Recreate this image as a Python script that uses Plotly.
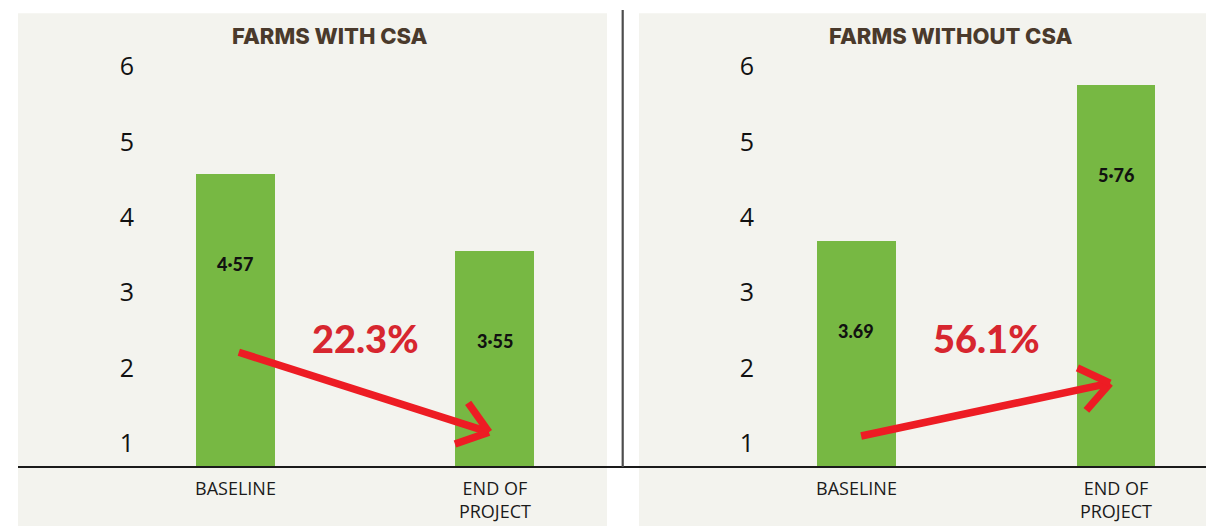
import math
import plotly.graph_objects as go

# =========================
# 0. DATA
# =========================
CATEGORIES = ["BASELINE", "END OF<br>PROJECT"]
PANEL_TITLES = ["FARMS WITH CSA", "FARMS WITHOUT CSA"]

WITH_CSA = [4.57, 3.55]
WITHOUT_CSA = [3.69, 5.76]
WITH_CSA_TEXT = ["4·57", "3·55"]
WITHOUT_CSA_TEXT = ["3.69", "5·76"]

CHANGE_TEXT = ["22.3%", "56.1%"]
# arrow (start x, start y) -> (tip x, tip y), in data units
ARROW_WITH = [(0.013, 2.21), (0.977, 1.15)]
ARROW_WITHOUT = [(0.018, 1.10), (0.977, 1.80)]

Y_TICKS = [1, 2, 3, 4, 5, 6]

# =========================
# 1. LAYOUT CONSTANTS (pixels)
# =========================
W, H = 1206, 526
AXIS_Y = 467
PLOT_TOP = 14
PX_X = 259.5       # px per category step
PX_Y = 75.4        # px per y unit
Y_RANGE = [1 - (AXIS_Y - 443.5) / PX_Y, 6 + (66.5 - PLOT_TOP) / PX_Y]

BG = "#f3f3ee"
GREEN = "#77b843"
RED_TXT = "#d7262f"
RED_ARROW = "#ed1c24"
TITLE_CLR = "#4a3a2c"

def px(x):
    return x / W

def py(y):
    return 1 - y / H

def arrow_xy(start, tip, arm_px=36, ang=37):
    (x0, y0), (x1, y1) = start, tip
    dx, dy = (x0 - x1) * PX_X, (y0 - y1) * PX_Y
    base = math.atan2(dy, dx)
    xs, ys = [x0, x1, None], [y0, y1, None]
    for s in (1, -1):
        a = base + s * math.radians(ang)
        xs += [x1 + arm_px * math.cos(a) / PX_X, x1]
        ys += [y1 + arm_px * math.sin(a) / PX_Y, y1]
        xs.append(None); ys.append(None)
    return xs, ys

panels = [
    dict(vals=WITH_CSA, txt=WITH_CSA_TEXT, arrow=ARROW_WITH, change=CHANGE_TEXT[0],
         left=18, right=607, xr=[-0.838, 1.432], ytick_pos=134),
    dict(vals=WITHOUT_CSA, txt=WITHOUT_CSA_TEXT, arrow=ARROW_WITHOUT, change=CHANGE_TEXT[1],
         left=639, right=1206, xr=[-0.838, 1.347], ytick_pos=754),
]

fig = go.Figure()
shapes, annotations = [], []

for i, p in enumerate(panels):
    sfx = "" if i == 0 else "2"
    xa, ya = "x" + sfx, "y" + sfx

    fig.add_trace(go.Bar(
        x=[0, 1], y=p["vals"], width=0.304, marker=dict(color=GREEN, line=dict(width=0)),
        xaxis=xa, yaxis=ya, showlegend=False, hoverinfo="y",
    ))
    ax, ay = arrow_xy(*p["arrow"])
    fig.add_trace(go.Scatter(
        x=ax, y=ay, mode="lines", line=dict(color=RED_ARROW, width=7.5),
        xaxis=xa, yaxis=ya, showlegend=False, hoverinfo="skip",
    ))

    xkey = "xaxis" + sfx
    ykey = "yaxis" + sfx
    fig.layout[xkey] = dict(
        domain=[px(p["left"]), px(min(p["right"], W))], range=p["xr"],
        anchor=ya, tickvals=[0, 1], ticktext=CATEGORIES, showgrid=False,
        zeroline=False, showline=False, ticks="", fixedrange=True,
        ticklabelstandoff=9,
        tickfont=dict(family="Open Sans", size=18, color="#1a1a1a"),
    )
    fig.layout[ykey] = dict(
        domain=[py(AXIS_Y), py(PLOT_TOP)], range=Y_RANGE, anchor="free",
        position=px(p["ytick_pos"]), tickvals=Y_TICKS, showgrid=False,
        zeroline=False, showline=False, ticks="", fixedrange=True,
        tickfont=dict(family="Open Sans", size=25, color="#111111"),
    )

    # panel background
    shapes.append(dict(type="rect", xref="paper", yref="paper", layer="below",
                       x0=px(p["left"]), x1=px(p["right"]), y0=0, y1=py(13.3),
                       fillcolor=BG, line=dict(width=0)))

    annotations.append(dict(
        text=PANEL_TITLES[i], xref=xa, yref="paper", x=0.364, y=py(36),
        yanchor="middle", showarrow=False,
        font=dict(family="Inter", size=22, color=TITLE_CLR, weight=800),
    ))
    for j, (v, t) in enumerate(zip(p["vals"], p["txt"])):
        annotations.append(dict(
            text=t, xref=xa, yref=ya, x=j, y=v, yshift=-90, showarrow=False,
            font=dict(family="Lato", size=18, color="#111111", weight=900),
        ))
    annotations.append(dict(
        text=p["change"], xref=xa, yref=ya, x=0.5, y=2.4, showarrow=False,
        font=dict(family="Lato", size=38, color=RED_TXT, weight=900),
    ))

# axis baseline across both panels, and the divider
shapes.append(dict(type="line", xref="paper", yref="paper", x0=px(18), x1=1,
                   y0=py(AXIS_Y), y1=py(AXIS_Y), line=dict(color="#1a1a1a", width=1.8)))
shapes.append(dict(type="line", xref="paper", yref="paper", x0=px(622.7), x1=px(622.7),
                   y0=py(AXIS_Y), y1=py(10), line=dict(color="#4d4d4d", width=2.2)))

fig.update_layout(
    width=W, height=H,
    margin=dict(l=0, r=0, t=0, b=0),
    paper_bgcolor="white", plot_bgcolor="rgba(0,0,0,0)",
    shapes=shapes, annotations=annotations,
    bargap=0, showlegend=False,
)

fig.write_html("out.html", config={"displayModeBar": False},
               post_script="document.body.style.margin='0';")
